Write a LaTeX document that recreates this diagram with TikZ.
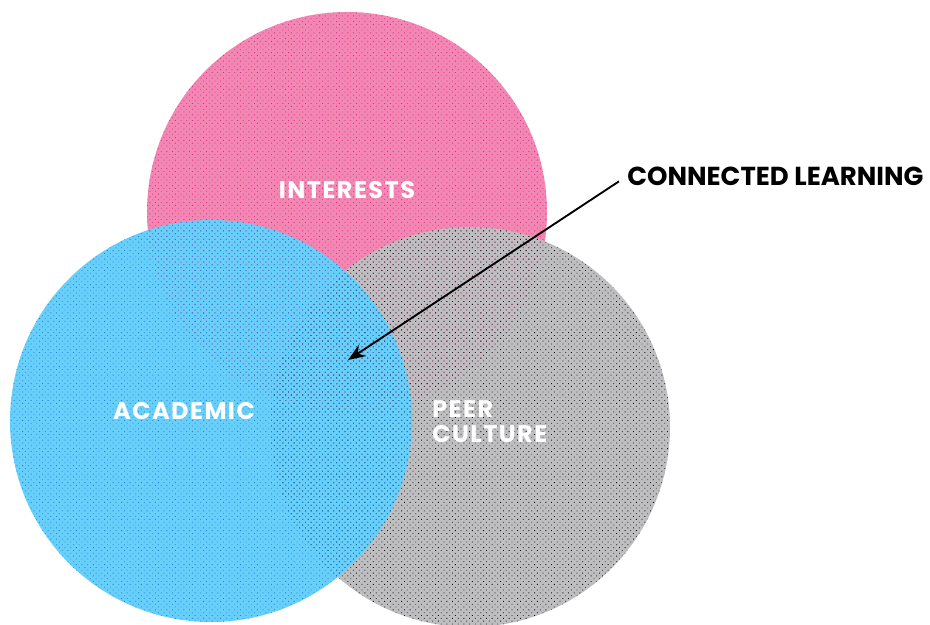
\documentclass[tikz,border=0pt]{standalone}
\usepackage{fontspec}
\setmainfont{Poppins}
\newfontfamily\labelfont[LetterSpace=6]{Poppins}
\usetikzlibrary{patterns.meta,arrows.meta}
\definecolor{pinkbase}{RGB}{242,135,180}
\definecolor{pinkdot}{RGB}{225,40,130}
\definecolor{bluebase}{RGB}{104,206,250}
\definecolor{bluedot}{RGB}{20,135,225}
\definecolor{graybase}{RGB}{190,190,192}
\definecolor{graydot}{RGB}{20,20,20}
\begin{document}
\begin{tikzpicture}[x=0.75pt,y=-0.75pt,
  dotfill/.style={pattern={Dots[distance=3pt,radius=0.45pt,angle=45]},pattern color=#1},
  circlabel/.style={text=white,font=\labelfont\bfseries\fontsize{18}{20}\selectfont,inner sep=0pt},
  callout/.style={text=black,font=\bfseries\fontsize{19.5}{22}\selectfont,inner sep=0pt}]
\useasboundingbox (0,0) rectangle (930,624);
% solid discs, bottom to top
\fill[pinkbase] (347,212) circle (200);
\fill[graybase] (470,427) circle (200);
\fill[bluebase] (211,421) circle (201);
% halftone dots of each disc, all visible through the overlaps
\fill[dotfill=pinkdot] (347,212) circle (200);
\fill[dotfill=graydot] (470,427) circle (200);
\fill[dotfill=bluedot] (211,421) circle (201);
% labels
\node[circlabel] (interests) at (347,190) {INTERESTS};
\node[circlabel] (academic) at (184,411) {ACADEMIC};
\node[circlabel,anchor=north west,align=left] (peer) at (432,400) {PEER\\[-1pt]CULTURE};
\node[callout,anchor=west] (cl) at (627,176) {CONNECTED LEARNING};
\coordinate (core) at (348,360);
\draw[line width=1.4pt,-{Stealth[length=13pt,width=10pt]}] ([xshift=-6pt,yshift=-4pt]cl.west) -- (core);
\end{tikzpicture}
\end{document}
